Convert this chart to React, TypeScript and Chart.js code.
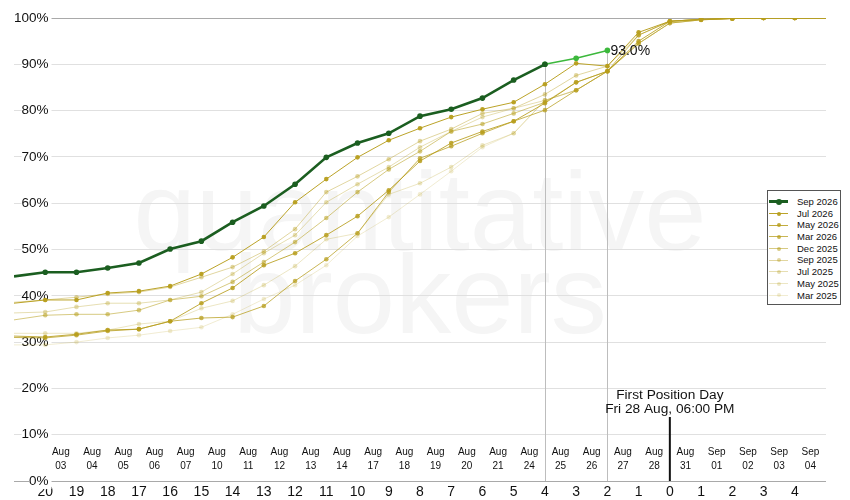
import { useEffect, useRef } from 'react'
import { Chart, registerables, type ChartConfiguration, type Plugin } from 'chart.js'

Chart.register(...registerables)

const FONT = "'Liberation Sans', Arial, Helvetica, sans-serif"

// trading days relative to first position day; -21 and 5 only carry the lines to the frame
const tradingDays = [-21, -20, -19, -18, -17, -16, -15, -14, -13, -12, -11, -10, -9, -8, -7, -6, -5, -4, -3, -2, -1, 0, 1, 2, 3, 4, 5]

// countdown printed under the axis, for days -20 .. 4
const countdownTicks = ['20', '19', '18', '17', '16', '15', '14', '13', '12', '11', '10', '9', '8', '7', '6', '5', '4', '3', '2', '1', '0', '1', '2', '3', '4']

// session dates, each sitting between two countdown ticks
const sessionDates = [
  'Aug 03', 'Aug 04', 'Aug 05', 'Aug 06', 'Aug 07', 'Aug 10', 'Aug 11', 'Aug 12', 'Aug 13', 'Aug 14',
  'Aug 17', 'Aug 18', 'Aug 19', 'Aug 20', 'Aug 21', 'Aug 24', 'Aug 25', 'Aug 26', 'Aug 27', 'Aug 28',
  'Aug 31', 'Sep 01', 'Sep 02', 'Sep 03', 'Sep 04',
]

const fpdDay = 0
const fpdText = ['First Position Day', 'Fri 28 Aug, 06:00 PM']

// current contract, % rolled, days -21 .. -4
const sep2026 = [44.2, 45.1, 45.1, 46.0, 47.1, 50.1, 51.8, 55.9, 59.4, 64.1, 69.9, 73.0, 75.1, 78.8, 80.3, 82.7, 86.6, 90.0]
// projection for the next sessions
const forecastDays = [-4, -3, -2]
const sep2026Forecast = [90.0, 91.3, 93.0]

// previous rolls, % rolled, days -21 .. 5
const jul2026 = [38.4, 39.1, 39.1, 40.6, 41.0, 42.1, 44.7, 48.3, 52.7, 60.2, 65.2, 69.9, 73.6, 76.2, 78.6, 80.3, 81.8, 85.7, 90.2, 89.6, 96.9, 99.3, 99.7, 99.9, 100, 100, 100]
const may2026 = [31.3, 31.1, 31.7, 32.6, 32.8, 34.5, 38.4, 41.7, 46.6, 49.2, 53.1, 57.2, 62.8, 69.1, 73.0, 75.5, 77.7, 81.6, 86.1, 88.5, 95.0, 99.3, 99.7, 99.9, 100, 100, 100]
const mar2026 = [31.0, 30.9, 31.5, 32.4, 32.8, 34.5, 35.2, 35.4, 37.8, 43.2, 47.9, 53.5, 62.4, 69.7, 72.3, 75.1, 77.7, 80.1, 84.4, 88.5, 96.3, 99.3, 99.7, 99.9, 100, 100, 100]
const dec2025 = [34.8, 35.8, 36.0, 36.0, 36.9, 39.1, 39.9, 43.0, 47.3, 51.6, 56.8, 62.4, 67.3, 71.2, 75.5, 77.1, 79.4, 81.8, 86.1, 88.5, 94.5, 98.9, 99.6, 99.9, 100, 100, 100]
const sep2025 = [38.6, 39.1, 39.7, 40.4, 40.8, 41.9, 44.0, 46.2, 49.6, 54.4, 62.4, 65.8, 69.5, 73.4, 76.0, 79.4, 80.5, 83.5, 87.6, 89.6, 96.3, 99.3, 99.7, 99.9, 100, 100, 100]
const jul2025 = [36.3, 36.5, 37.6, 38.4, 38.4, 39.1, 40.8, 44.7, 49.2, 53.1, 60.2, 64.1, 67.8, 72.1, 75.5, 78.6, 80.5, 82.2, 84.4, 88.5, 94.5, 98.9, 99.6, 99.9, 100, 100, 100]
const may2025 = [31.9, 31.9, 31.9, 32.6, 33.9, 34.5, 37.3, 38.9, 42.3, 46.4, 52.2, 53.5, 61.9, 64.3, 67.8, 72.5, 75.1, 82.2, 84.4, 88.5, 94.5, 98.9, 99.6, 99.9, 100, 100, 100]
const mar2025 = [29.4, 29.4, 30.0, 30.9, 31.5, 32.4, 33.2, 36.0, 39.3, 42.3, 46.6, 52.9, 57.0, 61.9, 66.9, 72.1, 75.1, 82.2, 84.4, 88.5, 94.5, 98.9, 99.6, 99.9, 100, 100, 100]

const yTicks = [0, 10, 20, 30, 40, 50, 60, 70, 80, 90, 100]

const pastNames = ['Jul 2026', 'May 2026', 'Mar 2026', 'Dec 2025', 'Sep 2025', 'Jul 2025', 'May 2025', 'Mar 2025']
const pastSeries = [jul2026, may2026, mar2026, dec2025, sep2025, jul2025, may2025, mar2025]
const pastAlpha = [0.95, 0.85, 0.75, 0.55, 0.42, 0.34, 0.26, 0.2]

const CURRENT = '#1b5e20'
const PROJECTED = '#3cb83c'
const gold = (a: number) => `rgba(183,158,28,${a})`

const edgeDay = (x: number) => x === tradingDays[0] || x === tradingDays[tradingDays.length - 1]

const decorations: Plugin<'line'> = {
  id: 'decorations',
  beforeDraw(chart) {
    const { ctx, chartArea: a } = chart
    ctx.save()
    ctx.fillStyle = '#fff'
    ctx.fillRect(0, 0, chart.width, chart.height)
    ctx.fillStyle = '#f5f5f5'
    ctx.font = `112px ${FONT}`
    ctx.textAlign = 'center'
    ctx.textBaseline = 'alphabetic'
    const cx = (a.left + a.right) / 2
    const mid = (a.top + a.bottom) / 2
    ctx.fillText('quantitative', cx, mid)
    ctx.fillText('brokers', cx, mid + 83)
    ctx.restore()
  },
  beforeDatasetsDraw(chart) {
    const { ctx, chartArea: a, scales } = chart
    const x = scales.x, y = scales.y
    ctx.save()
    // drop lines from the last actual and last projected points
    ctx.strokeStyle = '#bdbdbd'
    ctx.lineWidth = 1
    const drops: [number, number][] = [
      [forecastDays[0], sep2026Forecast[0]],
      [forecastDays[forecastDays.length - 1], sep2026Forecast[sep2026Forecast.length - 1]],
    ]
    drops.forEach(([d, v]) => {
      const px = Math.round(x.getPixelForValue(d)) + 0.5
      ctx.beginPath()
      ctx.moveTo(px, y.getPixelForValue(v))
      ctx.lineTo(px, a.bottom)
      ctx.stroke()
    })
    // session dates inside the plot, above the axis
    ctx.fillStyle = '#111'
    ctx.font = `10px ${FONT}`
    ctx.textAlign = 'center'
    ctx.textBaseline = 'middle'
    sessionDates.forEach((s, k) => {
      const px = x.getPixelForValue(tradingDays[k + 1] + 0.5)
      const [mon, day] = s.split(' ')
      ctx.fillText(mon, px, a.bottom - 29)
      ctx.fillText(day, px, a.bottom - 15)
    })
    ctx.restore()
  },
  afterDatasetsDraw(chart) {
    const { ctx, chartArea: a, scales } = chart
    const x = scales.x, y = scales.y
    ctx.save()
    // first position day marker
    const fx = x.getPixelForValue(fpdDay)
    ctx.strokeStyle = '#111'
    ctx.lineWidth = 2
    ctx.beginPath()
    ctx.moveTo(fx, a.bottom - 64)
    ctx.lineTo(fx, a.bottom)
    ctx.stroke()
    ctx.fillStyle = '#111'
    ctx.font = `13.7px ${FONT}`
    ctx.textAlign = 'center'
    ctx.textBaseline = 'middle'
    ctx.fillText(fpdText[0], fx, a.bottom - 86)
    ctx.fillText(fpdText[1], fx, a.bottom - 72)
    // latest projected value
    const last = sep2026Forecast.length - 1
    const lx = x.getPixelForValue(forecastDays[last])
    const ly = y.getPixelForValue(sep2026Forecast[last])
    ctx.font = `14px ${FONT}`
    ctx.textAlign = 'left'
    ctx.fillText(sep2026Forecast[last].toFixed(1) + '%', lx + 3, ly + 1)
    ctx.restore()
  },
}

function buildConfig(): ChartConfiguration<'line'> {
  const past = pastSeries.map((vals, i) => ({
    label: pastNames[i],
    data: vals.map((v, j) => ({ x: tradingDays[j], y: v })),
    borderColor: gold(pastAlpha[i]),
    backgroundColor: gold(pastAlpha[i]),
    borderWidth: 1,
    pointRadius: (c: any) => (edgeDay(c.raw?.x) ? 0 : 2.3),
    pointBorderWidth: 0,
    tension: 0,
  }))

  return {
    type: 'line',
    data: {
      datasets: [
        {
          label: 'Sep 2026',
          data: sep2026.map((v, j) => ({ x: tradingDays[j], y: v })),
          borderColor: CURRENT,
          backgroundColor: CURRENT,
          borderWidth: 2.6,
          pointRadius: (c: any) => (edgeDay(c.raw?.x) ? 0 : 2.8),
          pointBorderWidth: 0,
        },
        {
          label: 'Sep 2026 projected',
          data: sep2026Forecast.map((v, j) => ({ x: forecastDays[j], y: v })),
          borderColor: PROJECTED,
          backgroundColor: PROJECTED,
          borderWidth: 1.6,
          pointRadius: 2.8,
          pointBorderWidth: 0,
        },
        ...past,
      ],
    },
    options: {
      responsive: true,
      maintainAspectRatio: false,
      animation: false,
      events: [],
      layout: { padding: { left: 14, right: 24, top: 18, bottom: 0 } },
      plugins: {
        legend: { display: false },
        tooltip: { enabled: false },
      },
      scales: {
        x: {
          type: 'linear',
          min: tradingDays[0],
          max: tradingDays[tradingDays.length - 1],
          afterFit: (s) => { s.height = 19 },
          grid: { display: false, drawTicks: false },
          border: { display: false },
          ticks: {
            stepSize: 1,
            autoSkip: false,
            maxRotation: 0,
            padding: 3,
            color: '#111',
            font: { family: FONT, size: 14 },
            callback: (v) => countdownTicks[Number(v) - tradingDays[1]] ?? '',
          },
        },
        y: {
          min: yTicks[0],
          max: yTicks[yTicks.length - 1],
          afterFit: (s) => { s.width = 0 },
          afterBuildTicks: (s) => { s.ticks = yTicks.map((v) => ({ value: v })) },
          border: { display: false },
          grid: {
            drawTicks: false,
            color: (c) => (c.tick.value === 0 || c.tick.value === 100 ? '#a9a9a9' : '#e0e0e0'),
          },
          ticks: {
            mirror: true,
            crossAlign: 'far',
            padding: 0,
            color: '#111',
            font: { family: FONT, size: 13.5 },
            showLabelBackdrop: true,
            backdropColor: '#ffffff',
            backdropPadding: { left: 0, right: 3, top: 0, bottom: 0 },
            callback: (v) => v + '%',
          },
        },
      },
    },
    plugins: [decorations],
  }
}

function LegendBox() {
  const rows = [
    { name: 'Sep 2026', color: CURRENT, width: 3, dot: 6 },
    ...pastNames.map((n, i) => ({ name: n, color: gold(pastAlpha[i]), width: 1, dot: 4 })),
  ]
  return (
    <div style={{
      position: 'absolute', left: 767, top: 190, width: 74, boxSizing: 'border-box',
      border: '1px solid #555', background: '#fff', padding: '5px 0 3px 1px',
      fontFamily: FONT, fontSize: 9.5, color: '#111',
    }}>
      {rows.map((r) => (
        <div key={r.name} style={{ display: 'flex', alignItems: 'center', height: 11.7 }}>
          <span style={{ position: 'relative', width: 19, height: 11.7, marginRight: 9, flex: 'none' }}>
            <span style={{
              position: 'absolute', left: 0, right: 0, top: (11.7 - r.width) / 2, height: r.width, background: r.color,
            }} />
            <span style={{
              position: 'absolute', left: (19 - r.dot) / 2, top: (11.7 - r.dot) / 2, width: r.dot, height: r.dot,
              borderRadius: '50%', background: r.color,
            }} />
          </span>
          <span style={{ whiteSpace: 'nowrap', lineHeight: '11.7px' }}>{r.name}</span>
        </div>
      ))}
    </div>
  )
}

export default function App() {
  const canvasRef = useRef<HTMLCanvasElement>(null)
  const chartRef = useRef<Chart<'line'> | null>(null)

  useEffect(() => {
    if (!canvasRef.current) return
    chartRef.current?.destroy()
    chartRef.current = new Chart(canvasRef.current, buildConfig())
    return () => { chartRef.current?.destroy(); chartRef.current = null }
  }, [])

  return (
    <div style={{ position: 'fixed', left: 0, top: 0, width: 850, height: 500, background: '#fff' }}>
      <div style={{ position: 'absolute', inset: 0 }}>
        <canvas ref={canvasRef} />
      </div>
      <LegendBox />
    </div>
  )
}
